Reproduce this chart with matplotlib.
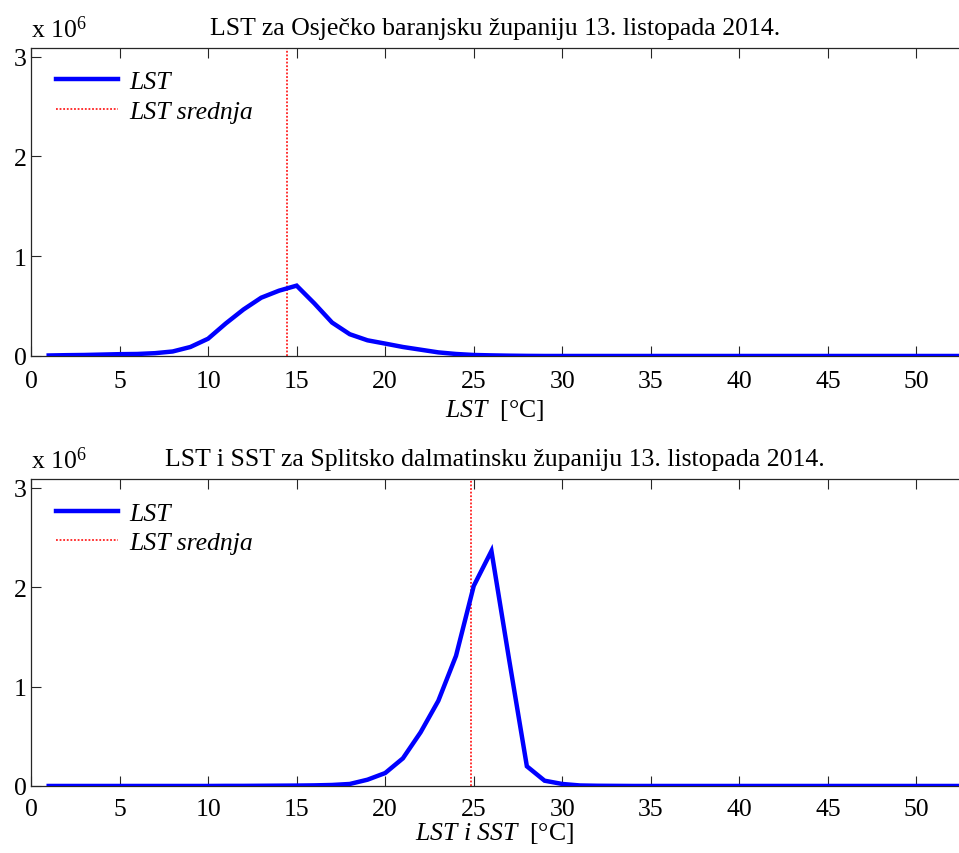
#!/usr/bin/env python3
"""Histogram curves of LST for two counties, 13 Oct 2014, with mean markers."""

import matplotlib

matplotlib.use("Agg")

import matplotlib.pyplot as plt  # noqa: E402

plt.rcParams["font.family"] = ["Liberation Serif", "DejaVu Serif"]
plt.rcParams["mathtext.fontset"] = "custom"
plt.rcParams["mathtext.rm"] = "Liberation Serif"
plt.rcParams["mathtext.it"] = "Liberation Serif:italic"

# ── Data (pixel counts, units of 1e6) ─────────────────────────
temps = list(range(1, 54))

osijek_counts = [
    0.005, 0.008, 0.010, 0.014, 0.018, 0.020, 0.028, 0.045, 0.090, 0.173,
    0.326, 0.466, 0.584, 0.654, 0.705, 0.527, 0.335, 0.218, 0.157, 0.124,
    0.090, 0.063, 0.036, 0.020, 0.010, 0.006, 0.003, 0.001, 0.0, 0.0,
    0.0, 0.0, 0.0, 0.0, 0.0, 0.0, 0.0, 0.0, 0.0, 0.0,
    0.0, 0.0, 0.0, 0.0, 0.0, 0.0, 0.0, 0.0, 0.0, 0.0,
    0.0, 0.0, 0.0,
]
osijek_mean = 14.46

split_counts = [
    0.0, 0.0, 0.0, 0.0, 0.0, 0.0, 0.0, 0.0, 0.0, 0.0,
    0.001, 0.001, 0.002, 0.003, 0.004, 0.006, 0.010, 0.020, 0.063, 0.130,
    0.278, 0.540, 0.857, 1.310, 2.013, 2.365, 1.270, 0.198, 0.053, 0.020,
    0.005, 0.002, 0.001, 0.0, 0.0, 0.0, 0.0, 0.0, 0.0, 0.0,
    0.0, 0.0, 0.0, 0.0, 0.0, 0.0, 0.0, 0.0, 0.0, 0.0,
    0.0, 0.0, 0.0,
]
split_mean = 24.85

panels = [
    {
        "counts": osijek_counts,
        "mean": osijek_mean,
        "title": "LST za Osječko baranjsku županiju 13. listopada 2014.",
        "xlabel": r"$\mathit{LST}$  [°C]",
        "tickpad": 10,
        "labelpad": 3.5,
        "rect": [0.0323, 0.582, 0.9677, 0.361],
    },
    {
        "counts": split_counts,
        "mean": split_mean,
        "title": "LST i SST za Splitsko dalmatinsku županiju 13. listopada 2014.",
        "xlabel": r"$\mathit{LST\ i\ SST}$  [°C]",
        "tickpad": 8.5,
        "labelpad": 0.5,
        "rect": [0.0323, 0.0785, 0.9677, 0.3595],
    },
]

FS = 18.5
AX_COLOR = "#262626"

fig = plt.figure(figsize=(9.59, 8.54), dpi=100)

for p in panels:
    ax = fig.add_axes(p["rect"])
    ax.plot(temps, p["counts"], color="#0000ff", linewidth=3.2, label="LST",
            solid_joinstyle="miter", zorder=3)
    ax.axvline(p["mean"], color="#ff2020", linestyle=(0, (1, 1)), linewidth=1.3,
               label="LST srednja", zorder=2)

    ax.set_xlim(0, 52.4)
    ax.set_ylim(0, 3.09)
    ax.set_xticks(range(0, 55, 5))
    ax.set_yticks([0, 1, 2, 3])
    ax.tick_params(direction="in", length=7, width=0.8, color=AX_COLOR,
                   labelsize=FS, top=True, right=False)
    ax.tick_params(axis="x", pad=p["tickpad"])
    ax.tick_params(axis="y", pad=3)
    for side in ("left", "bottom", "top"):
        ax.spines[side].set_color(AX_COLOR)
        ax.spines[side].set_linewidth(0.9)
    ax.spines["right"].set_visible(False)

    ax.set_title(p["title"], fontsize=FS, pad=10)
    ax.set_xlabel(p["xlabel"], fontsize=FS, labelpad=p["labelpad"])
    ax.text(0.0, 1.02, r"x 10$^{6}$", transform=ax.transAxes, fontsize=FS,
            ha="left", va="bottom")

    leg = ax.legend(loc="upper left", frameon=False, fontsize=FS,
                    handlelength=2.4, handletextpad=0.45, borderaxespad=0.3,
                    labelspacing=0.25, bbox_to_anchor=(0.008, 0.985))
    for txt in leg.get_texts():
        txt.set_fontstyle("italic")

fig.savefig("out.png", dpi=100)
plt.close(fig)
